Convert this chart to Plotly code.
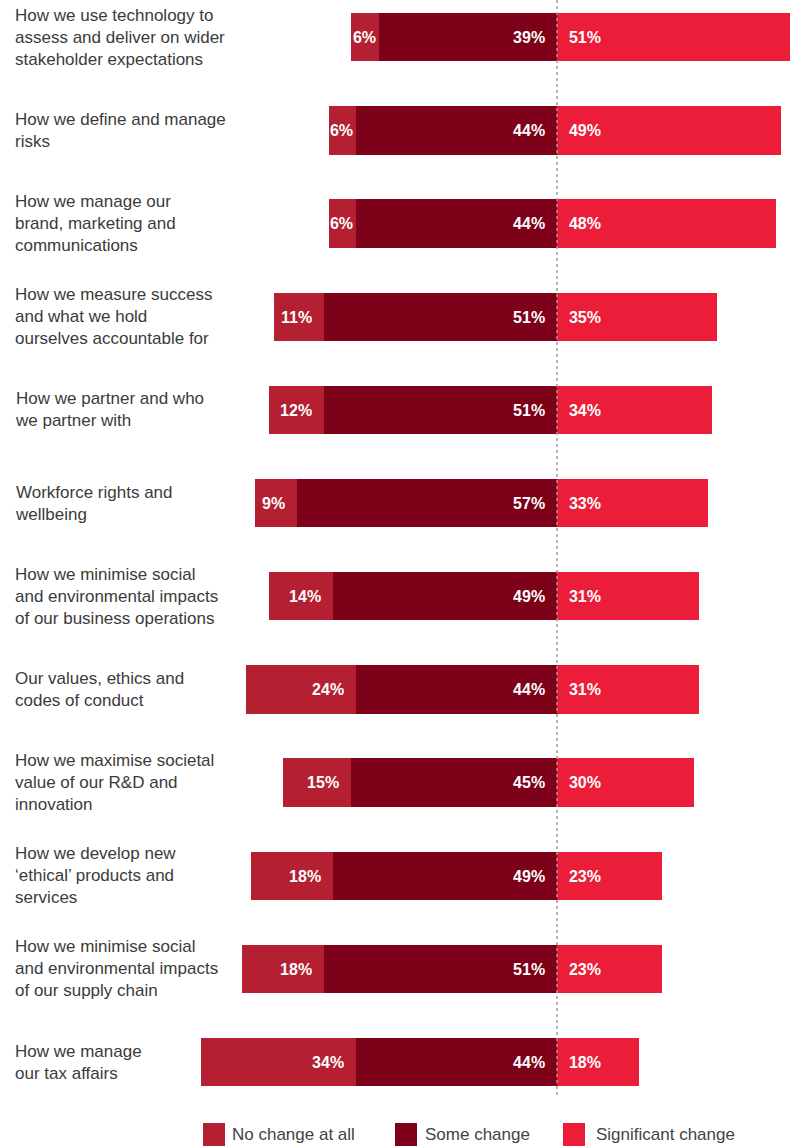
import plotly.graph_objects as go

categories = [
    "How we use technology to<br>assess and deliver on wider<br>stakeholder expectations",
    "How we define and manage<br>risks",
    "How we manage our<br>brand, marketing and<br>communications",
    "How we measure success<br>and what we hold<br>ourselves accountable for",
    "How we partner and who<br>we partner with",
    "Workforce rights and<br>wellbeing",
    "How we minimise social<br>and environmental impacts<br>of our business operations",
    "Our values, ethics and<br>codes of conduct",
    "How we maximise societal<br>value of our R&D and<br>innovation",
    "How we develop new<br>‘ethical’ products and<br>services",
    "How we minimise social<br>and environmental impacts<br>of our supply chain",
    "How we manage<br>our tax affairs",
]
no_change = [6, 6, 6, 11, 12, 9, 14, 24, 15, 18, 18, 34]
some_change = [39, 44, 44, 51, 51, 57, 49, 44, 45, 49, 51, 44]
significant = [51, 49, 48, 35, 34, 33, 31, 31, 30, 23, 23, 18]
series_names = ["No change at all", "Some change", "Significant change"]

C_NO = "#B51F32"
C_SOME = "#7C0119"
C_SIG = "#EC1D38"
FONT = "Liberation Sans, Arial, sans-serif"
TXT = "#3b3b3b"

W, H = 794, 1147
MB = 29
PH = H - MB
NBSP = "\u00a0"


def pad(v, n=2):
    return f"{v}%" + (NBSP * n if v >= 8 else "")


def padl(v, n=2):
    return NBSP * n + f"{v}%"


ypos = list(range(len(categories)))
bar_w = 0.52
tfont = dict(family=FONT, size=16, color="white", weight="bold")

fig = go.Figure()
fig.add_trace(go.Bar(
    y=ypos, x=[-v for v in some_change], orientation="h", name=series_names[1],
    marker=dict(color=C_SOME, line=dict(width=0)), width=bar_w,
    text=[pad(v) for v in some_change], textposition="inside", insidetextanchor="start",
    textangle=0, textfont=tfont, constraintext="none",
    showlegend=False, hoverinfo="skip",
))
fig.add_trace(go.Bar(
    y=ypos, x=[-v for v in no_change], orientation="h", name=series_names[0],
    marker=dict(color=C_NO, line=dict(width=0)), width=bar_w,
    text=[pad(v) for v in no_change], textposition="inside", insidetextanchor="start",
    textangle=0, textfont=tfont, constraintext="none",
    showlegend=False, hoverinfo="skip",
))
fig.add_trace(go.Bar(
    y=ypos, x=significant, orientation="h", name=series_names[2],
    marker=dict(color=C_SIG, line=dict(width=0)), width=bar_w,
    text=[padl(v) for v in significant], textposition="inside", insidetextanchor="start",
    textangle=0, textfont=tfont, constraintext="none",
    showlegend=False, hoverinfo="skip",
))

scale = 4.57
cx = 557
x_range = [-cx / scale, (W - cx) / scale]

annotations = []
for i, cat in enumerate(categories):
    annotations.append(dict(
        x=13 / W, xref="paper", y=i, yref="y", text=cat, showarrow=False,
        xanchor="left", yanchor="middle", align="left",
        font=dict(family=FONT, size=17, color=TXT),
    ))

shapes = [dict(
    type="line", xref="x", yref="paper", x0=0, x1=0, y0=1, y1=(PH - 1098) / PH,
    line=dict(color="#9a9a9a", width=1.5, dash="dot"), layer="above",
)]

# legend (manual, to reproduce large square swatches)
leg_items = [(203, 230, C_NO), (395, 423, C_SOME), (563, 594, C_SIG)]
sq = 22
ly0, ly1 = 1123, 1146
for (sx, tx, col), name in zip(leg_items, series_names):
    shapes.append(dict(
        type="rect", xref="paper", yref="paper",
        x0=sx / W, x1=(sx + sq) / W, y0=(PH - ly1) / PH, y1=(PH - ly0) / PH,
        fillcolor=col, line=dict(width=0),
    ))
    annotations.append(dict(
        x=tx / W, xref="paper", y=(PH - (ly0 + ly1) / 2) / PH, yref="paper",
        text=name, showarrow=False, xanchor="left", yanchor="middle",
        font=dict(family=FONT, size=17, color="#444444"),
    ))

fig.update_layout(
    width=W, height=H,
    margin=dict(l=0, r=0, t=0, b=MB),
    barmode="relative",
    bargap=0,
    plot_bgcolor="white", paper_bgcolor="white",
    xaxis=dict(range=x_range, visible=False, fixedrange=True),
    yaxis=dict(range=[11.6, -0.4], visible=False, fixedrange=True),
    uniformtext=dict(minsize=16, mode="show"),
    annotations=annotations,
    shapes=shapes,
    showlegend=False,
)

fig.write_html("out.html")
